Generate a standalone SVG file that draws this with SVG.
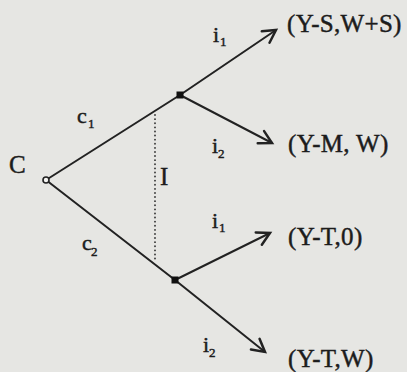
<svg xmlns="http://www.w3.org/2000/svg" width="407" height="372" viewBox="0 0 407 372">
  <style>
    .edge { stroke: #222; stroke-width: 2; fill: none; stroke-linecap: round; }
    .info { stroke: #333; stroke-width: 1.8; stroke-dasharray: 0.1 4; stroke-linecap: round; fill: none; }
    text { font-family: "Liberation Serif", "Times New Roman", serif; fill: #1c1c1c; stroke: #1c1c1c; stroke-width: 0.45; }
    .big { font-size: 25px; letter-spacing: 0.3px; }
    .lab { font-size: 22px; }
    .sub { font-size: 13px; }
  </style>
  <defs>
    <marker id="arrow" markerUnits="userSpaceOnUse" markerWidth="20" markerHeight="20" refX="0" refY="0" viewBox="-12 -8 14 16" orient="auto" overflow="visible">
      <path d="M -10 -5.5 L 0 0 L -10 5.5" stroke="#222" stroke-width="2" fill="none" stroke-linecap="round" stroke-linejoin="miter"/>
    </marker>
  </defs>
  <rect x="0" y="0" width="407" height="372" fill="#e6e6e3"/>

  <g id="connectors">
    <line class="edge" x1="46" y1="180" x2="180" y2="95"/>
    <line class="edge" x1="46" y1="180" x2="175" y2="280"/>
    <line class="edge" x1="180" y1="95" x2="276" y2="30" marker-end="url(#arrow)"/>
    <line class="edge" x1="180" y1="95" x2="272" y2="143" marker-end="url(#arrow)"/>
    <line class="edge" x1="175" y1="280" x2="270" y2="233" marker-end="url(#arrow)"/>
    <line class="edge" x1="175" y1="280" x2="265" y2="352" marker-end="url(#arrow)"/>
    <line class="info" x1="155" y1="115" x2="155" y2="262"/>
    <text class="lab" x="77" y="123">c</text><text class="sub" x="88" y="128">1</text>
    <text class="lab" x="82" y="250">c</text><text class="sub" x="91" y="256">2</text>
    <text class="lab" x="213" y="42">i</text><text class="sub" x="220" y="46">1</text>
    <text class="lab" x="212" y="153">i</text><text class="sub" x="218" y="158">2</text>
    <text class="lab" x="212" y="228">i</text><text class="sub" x="219" y="232">1</text>
    <text class="lab" x="203" y="352">i</text><text class="sub" x="209" y="357">2</text>
  </g>

  <g id="root">
    <circle cx="46" cy="180" r="3" fill="#f4f4f2" stroke="#222" stroke-width="1.6"/>
    <text class="big" x="9" y="173">C</text>
  </g>
  <g id="node-c1">
    <rect x="176.5" y="91.5" width="7" height="7" fill="#111"/>
  </g>
  <g id="node-c2">
    <rect x="171.5" y="276.5" width="7" height="7" fill="#111"/>
  </g>
  <g id="info-set">
    <text class="big" x="160" y="185">I</text>
  </g>
  <g id="out-1">
    <text class="big" x="287" y="32">(Y-S,W+S)</text>
  </g>
  <g id="out-2">
    <text class="big" x="288" y="152">(Y-M, W)</text>
  </g>
  <g id="out-3">
    <text class="big" x="288" y="245">(Y-T,0)</text>
  </g>
  <g id="out-4">
    <text class="big" x="288" y="367">(Y-T,W)</text>
  </g>
</svg>
